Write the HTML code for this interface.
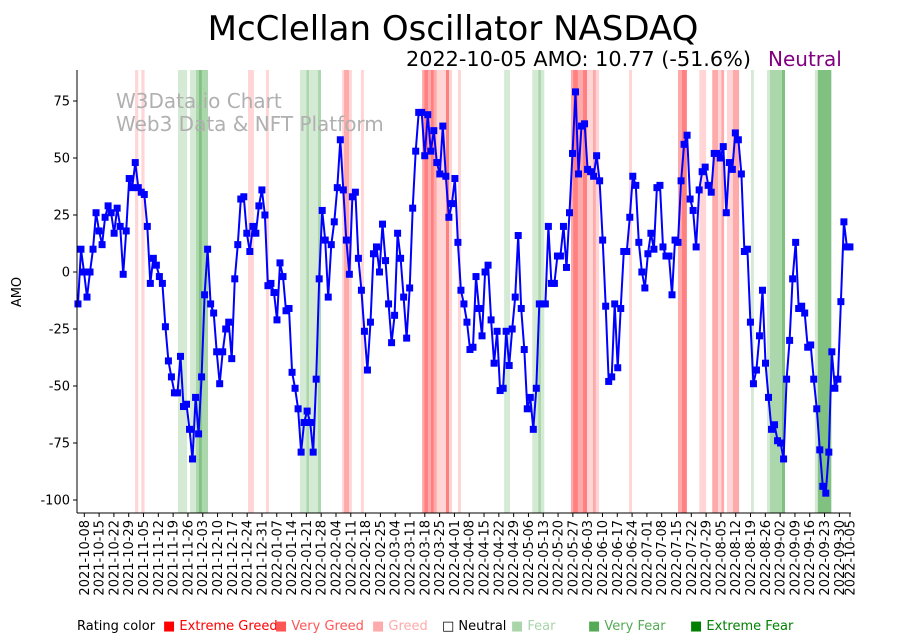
<!DOCTYPE html>
<html><head><meta charset="utf-8">
<style>
body{margin:0;background:#fff;font-family:"Liberation Sans","DejaVu Sans",sans-serif;}
svg{display:block}
</style></head>
<body>
<svg id="chart" width="918" height="641" xmlns="http://www.w3.org/2000/svg" font-family="'DejaVu Sans','Liberation Sans',sans-serif">
<text x="453" y="40" font-size="34" text-anchor="middle">McClellan Oscillator NASDAQ</text>
<text x="406" y="66" font-size="20" textLength="345" lengthAdjust="spacingAndGlyphs">2022-10-05 AMO: 10.77 (-51.6%)</text>
<text x="768" y="66" font-size="20" fill="#800080">Neutral</text>
<g id="bands"></g>
<text x="116" y="108" font-size="20" fill="#b0b0b0">W3Data.io Chart</text>
<text x="116" y="131" font-size="20" fill="#b0b0b0">Web3 Data &amp; NFT Platform</text>
<g id="series"></g>
<g id="axes"></g>
<text transform="translate(21,292) rotate(-90)" font-size="13" text-anchor="middle">AMO</text>
<g font-size="13">
<text x="77" y="630">Rating color</text>
<text x="163" y="630" fill="#ff0000">■ Extreme Greed</text>
<text x="275" y="630" fill="#ff5555">■ Very Greed</text>
<text x="372" y="630" fill="#ffaaaa">■ Greed</text>
<text x="442" y="630" fill="#000">□ Neutral</text>
<text x="511" y="630" fill="#aad4aa">■ Fear</text>
<text x="588" y="630" fill="#55aa55">■ Very Fear</text>
<text x="690" y="630" fill="#008000">■ Extreme Fear</text>
</g>
</svg>
<script>
const startDate = "2021-10-05";
const endDate = "2022-10-05";
const values = [-14,10,0,-11,0,10,26,18,12,24,29,26,17,28,20,-1,18,41,37,48,37,35,34,20,-5,6,3,-2,-5,-24,-39,-46,-53,-53,-37,-59,-58,-69,-82,-55,-71,-46,-10,10,-14,-18,-35,-49,-35,-25,-22,-38,-3,12,32,33,17,9,20,17,29,36,25,-6,-5,-9,-21,4,-2,-17,-16,-44,-51,-60,-79,-66,-61,-66,-79,-47,-3,27,14,-11,12,22,37,58,36,14,-1,33,35,6,-8,-26,-43,-22,8,11,0,21,5,-14,-31,-19,17,6,-11,-29,-7,28,53,70,70,51,69,53,62,48,43,64,42,24,30,41,13,-8,-14,-22,-34,-33,-2,-16,-28,0,3,-21,-40,-26,-52,-51,-26,-41,-25,-11,16,-16,-34,-60,-55,-69,-51,-14,-14,-14,20,-5,-5,7,7,20,2,26,52,79,43,64,65,45,44,42,51,40,14,-15,-48,-46,-14,-42,-16,9,9,24,42,38,13,0,-7,8,17,10,37,38,11,7,7,-10,14,13,40,56,60,32,27,11,36,44,46,38,35,52,52,50,55,26,48,45,61,58,43,9,10,-22,-49,-43,-28,-8,-40,-55,-69,-67,-74,-75,-82,-47,-30,-3,13,-16,-15,-18,-33,-32,-47,-60,-78,-94,-97,-79,-35,-51,-47,-13,22,11,11];
const yTicks = [75,50,25,0,-25,-50,-75,-100];
// rating bands in days since 2021-10-08; level 1-3 greed, 4-6 fear
const bandStart = [24,27,44.3,50,52.8,54.2,55.6,77.4,85.9,102,105,106.3,110.5,121.9,122.8,125.2,130.8,159.7,160.7,162.5,163.9,165.3,166.7,171,172.5,176.7,198.5,211.8,214.6,216,230.1,231.1,233.4,235.8,237.7,240.5,241.9,257.6,280.7,282.6,290.8,296.9,299.7,301.2,303.9,306.7,315.2,322.8,324.1,329.8,345.4,346.8];
const bandEnd = [25.5,28.5,48.6,52.8,54.2,55.6,58.5,80.2,87.3,105,106.3,110.5,111.9,122.8,125.2,126.5,132.2,160.7,162.5,163.9,165.3,166.7,171,172.5,173.9,178.1,201.3,214.6,216,217.5,231.1,233.4,235.8,237.7,240.5,241.9,243.4,259,282.6,284.9,294,299.7,301.2,302.5,306.7,309.6,316.6,324.1,329.8,331.3,346.8,353.2];
const bandLevel = [1,1,4,4,5,6,5,1,1,4,5,4,5,1,2,1,1,2,3,2,3,2,1,3,1,1,4,4,5,4,2,3,2,3,1,2,1,1,2,3,1,2,1,2,1,2,4,4,5,6,4,6];
const bandColors = {1:"#ffd5d5",2:"#ffaaaa",3:"#ff8080",4:"#d4ead4",5:"#acd6ac",6:"#80c080"};

const NS="http://www.w3.org/2000/svg";
const L=77,R=851,T=70,B=513;
const DAY=86400000;
const d0=Date.parse("2021-10-08");
const xDay=d=>84.3+d*2.115;
const yS=v=>272-v*2.28;
const sDay=(Date.parse(startDate)-d0)/DAY, eDay=(Date.parse(endDate)-d0)/DAY;
const xIdx=i=>xDay(sDay+(eDay-sDay)*i/(values.length-1));
function mk(t,a,p){const e=document.createElementNS(NS,t);for(const k in a)e.setAttribute(k,a[k]);p.appendChild(e);return e;}

const bands=document.getElementById('bands');
bandStart.forEach((s,i)=>{
  const x1=Math.max(L,xDay(s)),x2=Math.min(R,xDay(bandEnd[i]));
  const r=mk('rect',{x:x1,y:T,width:Math.max(1,x2-x1),height:B-T,fill:bandColors[bandLevel[i]]},bands);
  
  
});

const ser=document.getElementById('series');
const pts=values.map((v,i)=>xIdx(i).toFixed(1)+","+yS(v).toFixed(1)).join(" ");
const pl=mk('polyline',{points:pts,fill:"none",stroke:"#0000ff","stroke-width":2,"stroke-linejoin":"round"},ser);


values.forEach((v,i)=>{
  const m=mk('rect',{x:xIdx(i)-3.5,y:yS(v)-3.5,width:7,height:7,fill:"#0000ff"},ser);
  
  
});

const ax=document.getElementById('axes');
mk('line',{x1:L,y1:T,x2:L,y2:B,stroke:"#000","stroke-width":1},ax);
mk('line',{x1:L,y1:B,x2:R,y2:B,stroke:"#000","stroke-width":1},ax);
yTicks.forEach(v=>{
  const y=yS(v);
  mk('line',{x1:L-4,y1:y,x2:L,y2:y,stroke:"#000"},ax);
  const t=mk('text',{x:L-7,y:y+4.5,"font-size":13,"text-anchor":"end"},ax);
  t.textContent=v;
  
  
});
const fmt=d=>new Date(d0+d*DAY).toISOString().slice(0,10);
const xTickDays=[];
for(let d=0;d<=357;d+=7)xTickDays.push(d);
xTickDays.push(eDay);
xTickDays.forEach(d=>{
  const x=xDay(d);
  mk('line',{x1:x,y1:B,x2:x,y2:B+4,stroke:"#000"},ax);
  const t=mk('text',{transform:`translate(${x+4.5},${B+7}) rotate(-90)`,"font-size":13,"text-anchor":"end"},ax);
  t.textContent=fmt(d);
  
  
});
</script>
</body></html>
